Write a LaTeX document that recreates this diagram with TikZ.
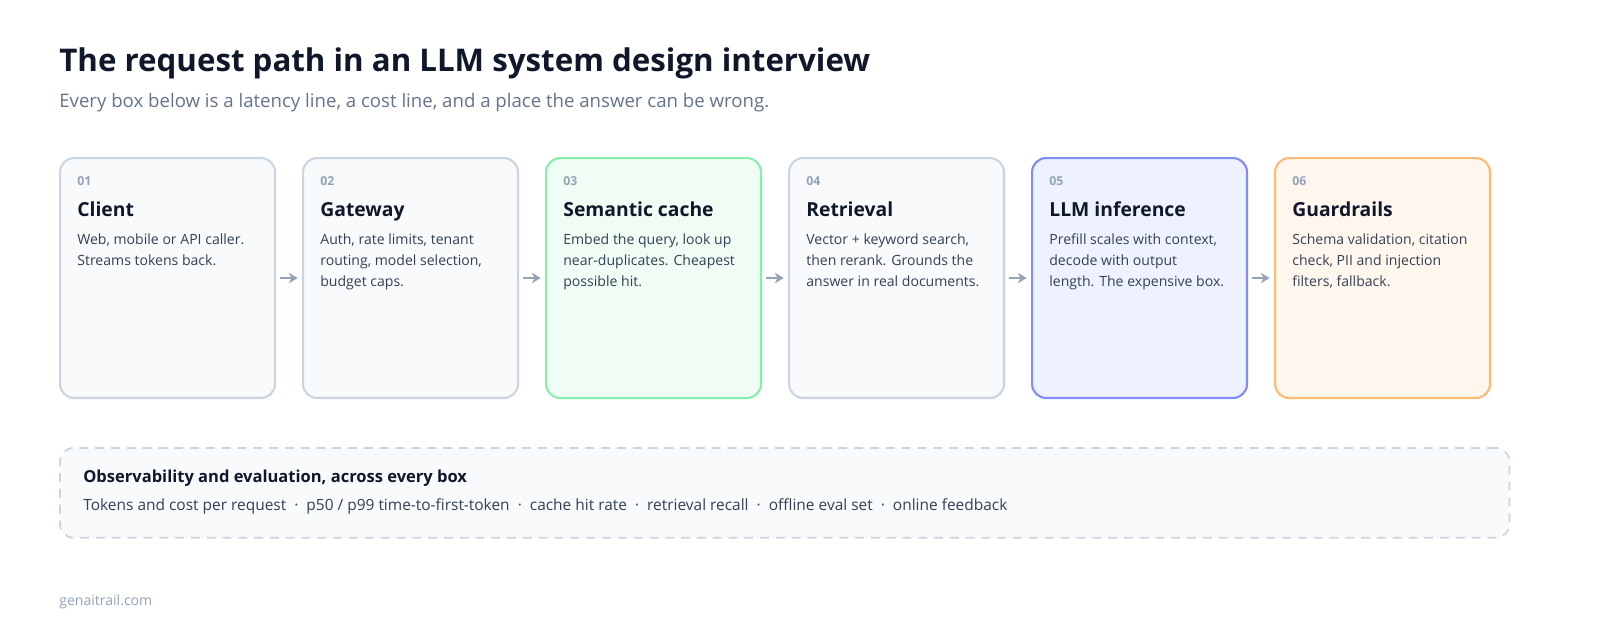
\documentclass[tikz,border=0pt]{standalone}
\usepackage{fontspec}
\setmainfont{Open Sans}
\usetikzlibrary{positioning,arrows.meta}
\definecolor{ink}{HTML}{0F172A}
\definecolor{body}{HTML}{334155}
\definecolor{muted}{HTML}{64748B}
\definecolor{faint}{HTML}{94A3B8}
\definecolor{grayline}{HTML}{CBD5E1}
\definecolor{grayfill}{HTML}{F8FAFC}
\definecolor{greenline}{HTML}{86EFAC}
\definecolor{greenfill}{HTML}{F0FDF4}
\definecolor{blueline}{HTML}{818CF8}
\definecolor{bluefill}{HTML}{EEF2FF}
\definecolor{orangeline}{HTML}{FDBA74}
\definecolor{orangefill}{HTML}{FFF7ED}
\tikzset{
  stage/.style={draw=#1line, fill=#1fill, line width=1.2pt, rounded corners=8pt,
    minimum width=4.3cm, minimum height=4.8cm, anchor=north west, inner sep=0pt},
  num/.style={anchor=base west, inner sep=0pt, text=faint, font=\bfseries\fontsize{7}{8}\selectfont},
  head/.style={anchor=base west, inner sep=0pt, text=ink, font=\bfseries\fontsize{11}{13}\selectfont},
  desc/.style={anchor=north west, inner sep=0pt, text=body, align=left, font=\fontsize{8}{12}\selectfont},
  flow/.style={-{Stealth[length=5pt,width=6pt]}, draw=faint, line width=1.2pt, shorten >=2.5pt, shorten <=2.5pt}
}
\begin{document}
\begin{tikzpicture}[x=0.02cm, y=-0.02cm]
\useasboundingbox[fill=white] (0,0) rectangle (1600,640);
% heading
\node[anchor=base west, inner sep=0pt, text=ink, font=\bfseries\fontsize{17.8}{20}\selectfont] (title) at (59,71) {The request path in an LLM system design interview};
\node[anchor=base west, inner sep=0pt, text=muted, font=\fontsize{10.6}{12}\selectfont] (sub) at (59,107) {Every box below is a latency line, a cost line, and a place the answer can be wrong.};
% stages
\foreach \i/\c/\t/\d in {
  1/gray/Client/{Web, mobile or API caller.\\Streams tokens back.},
  2/gray/Gateway/{Auth, rate limits, tenant\\routing, model selection,\\budget caps.},
  3/green/Semantic cache/{Embed the query, look up\\near-duplicates. Cheapest\\possible hit.},
  4/gray/Retrieval/{Vector + keyword search,\\then rerank. Grounds the\\answer in real documents.},
  5/blue/LLM inference/{Prefill scales with context,\\decode with output\\length. The expensive box.},
  6/orange/Guardrails/{Schema validation, citation\\check, PII and injection\\filters, fallback.}} {
  \pgfmathsetmacro{\bx}{59+243*(\i-1)}
  \node[stage=\c] (b\i) at (\bx,157) {};
  \node[num] (n\i) at (\bx+18,185) {0\i};
  \node[head] (h\i) at (\bx+18,216) {\t};
  \node[desc] (d\i) at (\bx+18,233) {\d};
}
\foreach \i [evaluate=\i as \j using int(\i+1)] in {1,...,5}
  \draw[flow] (b\i.east) -- (b\j.west);
% observability
\node[draw=grayline, fill=grayfill, dashed, dash pattern=on 5pt off 4pt, line width=1pt,
  rounded corners=8pt, anchor=north west, minimum width=29cm, minimum height=1.8cm] (obs) at (59,447) {};
\node[anchor=base west, inner sep=0pt, text=ink, font=\bfseries\fontsize{9.4}{11}\selectfont] (obsh) at (83,482) {Observability and evaluation, across every box};
\node[anchor=base west, inner sep=0pt, text=body, font=\fontsize{8.8}{11}\selectfont] (obst) at (83,510) {Tokens and cost per request~~·~~p50 / p99 time-to-first-token~~·~~cache hit rate~~·~~retrieval recall~~·~~offline eval set~~·~~online feedback};
% footer
\node[anchor=base west, inner sep=0pt, text=faint, font=\fontsize{8}{9}\selectfont] (foot) at (59,605) {genaitrail.com};
\end{tikzpicture}
\end{document}
